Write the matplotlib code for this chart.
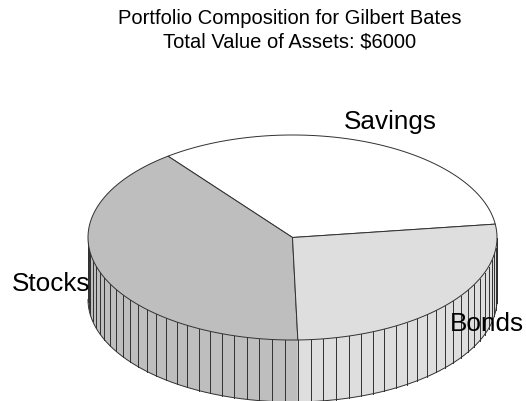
#%% Packages
import numpy as np
import matplotlib
matplotlib.use('Agg')
import matplotlib.pyplot as plt
from matplotlib.patches import Polygon

#%% Data
labels = ['Savings', 'Stocks', 'Bonds']
values = [2000, 2400, 1600]
colors = ['#ffffff', '#bebebe', '#dedede']
label_pos = [(390, 122.5), (51, 284), (487, 324)]
title_lines = ['Portfolio Composition for Gilbert Bates', 'Total Value of Assets: $6000']
title_pos = [(290, 18), (290, 42)]

#%% Pie geometry (pixels)
cx, cy = 292.5, 238.5
a, b = 204.5, 102.5
depth = 62
start = 7.5        # [deg] - first slice edge
step = 3.6         # [deg] - spacing of side lines
line_col = '#303030'
line_w = 0.7

def ell(t, dy=0):
    r = np.radians(t)
    return np.column_stack([cx+a*np.cos(r), cy-b*np.sin(r)+dy])

#%% Plotting
plt.rcParams['font.family'] = ['Liberation Sans', 'DejaVu Sans']
fig = plt.figure(figsize=(5.26, 4.02), dpi=100)
ax = fig.add_axes([0, 0, 1, 1])
ax.set_xlim(0, 526)
ax.set_ylim(402, 0)
ax.axis('off')

edges = start + np.cumsum([0]+values)/sum(values)*360

# side wall, front half only
for i in range(len(values)):
    lo, hi = max(edges[i], 180), min(edges[i+1], 360)
    if hi <= lo:
        continue
    t = np.linspace(lo, hi, 200)
    wall = np.vstack([ell(t), ell(t[::-1], depth)])
    ax.add_patch(Polygon(wall, closed=True, fc=colors[i], ec='none', zorder=1))

# side lines count from the stocks/bonds edge
ts = edges[2] + step*np.arange(-25, 25)
ts = ts[(ts > 180) & (ts < 360)]
for s in list(ts)+[180, 360]:
    p0, p1 = ell(s), ell(s, depth)
    ax.plot([p0[0, 0], p1[0, 0]], [p0[0, 1], p1[0, 1]], color=line_col, lw=line_w, zorder=2)

t = np.linspace(180, 360, 400)
ax.plot(*ell(t, depth).T, color=line_col, lw=line_w, zorder=2)

# top face
for i in range(len(values)):
    t = np.linspace(edges[i], edges[i+1], 200)
    top = np.vstack([[cx, cy], ell(t)])
    ax.add_patch(Polygon(top, closed=True, fc=colors[i], ec=line_col, lw=line_w, zorder=3))

for name, pos in zip(labels, label_pos):
    ax.text(pos[0], pos[1], name, fontsize=18.8, ha='center', va='center', color='black', zorder=4)

for line, pos in zip(title_lines, title_pos):
    ax.text(pos[0], pos[1], line, fontsize=14.5, ha='center', va='center', color='black')

fig.savefig('out.png', dpi=100)
